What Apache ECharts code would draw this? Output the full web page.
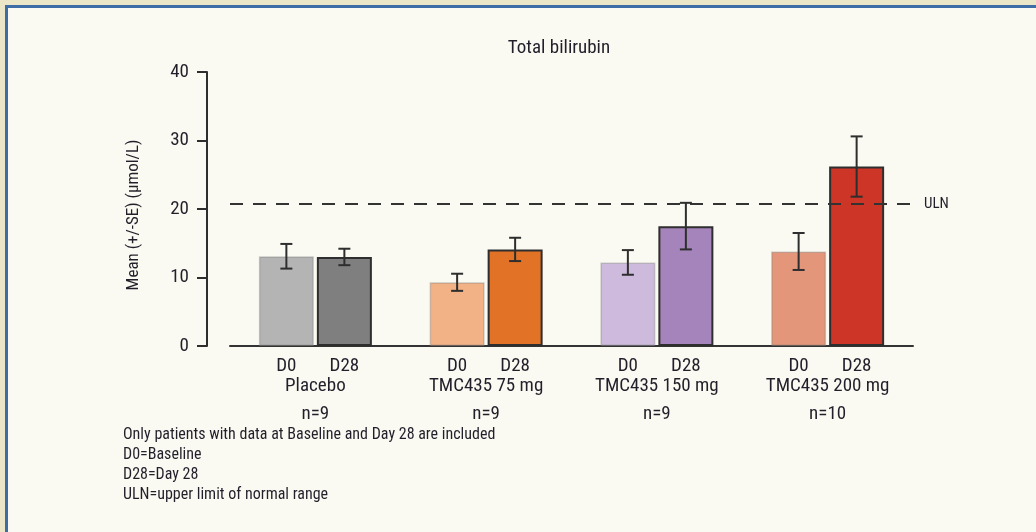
<!DOCTYPE html>
<html>
<head>
<meta charset="utf-8">
<script src="https://cdn.jsdelivr.net/npm/echarts@6/dist/echarts.min.js"></script>
<style>
  html, body { margin: 0; padding: 0; width: 1036px; height: 532px; background: #ECE6C9; overflow: hidden; }
  #frame { position: absolute; left: 5px; top: 5px; right: 0; bottom: 0;
           border-left: 3px solid #3E6CA6; border-top: 3px solid #3E6CA6; background: #FAFAF2; }
  #chart { position: absolute; left: 0; top: 0; width: 1036px; height: 532px; }
</style>
</head>
<body>
<div id="frame"></div>
<div id="chart"></div>
<script>
// Total bilirubin by treatment arm, baseline (D0) vs Day 28
const groups = ['Placebo', 'TMC435 75 mg', 'TMC435 150 mg', 'TMC435 200 mg'];
const nCounts = ['n=9', 'n=9', 'n=9', 'n=10'];
const dayLabels = ['D0', 'D28'];
const d0Mean = [13.1, 9.3, 12.2, 13.8];
const d0Se = [1.8, 1.25, 1.8, 2.7];
const d28Mean = [13.0, 14.1, 17.5, 26.2];
const d28Se = [1.2, 1.7, 3.4, 4.4];
const d0Colors = ['#B4B4B4', '#F2B286', '#CDBADC', '#E3967A'];
const d28Colors = ['#7F7F7F', '#E27226', '#A584BB', '#CD3526'];
const uln = 20.7;
const yTicks = [0, 10, 20, 30, 40];
const footnotes = [
  'Only patients with data at Baseline and Day 28 are included',
  'D0=Baseline',
  'D28=Day 28',
  'ULN=upper limit of normal range'
];

const FONT = '"Roboto Condensed", "DejaVu Sans Condensed", sans-serif';
const TXT = '#231f2a';
const BAR_W = 55;
const BAR_GAP = 3;

const chart = echarts.init(document.getElementById('chart'), null, { renderer: 'canvas' });

// I-beam error bars centred on each bar of the pair
function errorSeries(name, means, ses, side) {
  return {
    type: 'custom',
    name: name,
    z: 5,
    data: means.map((m, i) => [i, m - ses[i], m + ses[i]]),
    renderItem: function (params, api) {
      const shift = side * (BAR_W + BAR_GAP) / 2;
      const lo = api.coord([api.value(0), api.value(1)]);
      const hi = api.coord([api.value(0), api.value(2)]);
      const x = lo[0] + shift;
      const cap = 6;
      const style = { stroke: '#2e2e2e', lineWidth: 2 };
      return {
        type: 'group',
        children: [
          { type: 'line', shape: { x1: x, y1: lo[1], x2: x, y2: hi[1] }, style: style },
          { type: 'line', shape: { x1: x - cap, y1: lo[1], x2: x + cap, y2: lo[1] }, style: style },
          { type: 'line', shape: { x1: x - cap, y1: hi[1], x2: x + cap, y2: hi[1] }, style: style }
        ]
      };
    }
  };
}

function dayLabel(text) {
  return {
    show: true,
    position: 'bottom',
    distance: 11,
    formatter: text,
    color: TXT,
    fontFamily: FONT,
    fontSize: 19
  };
}

const option = {
  animation: false,
  backgroundColor: 'transparent',
  title: {
    text: 'Total bilirubin',
    left: 554,
    top: 34,
    textAlign: 'center',
    textStyle: { fontFamily: FONT, fontSize: 19, fontWeight: 'normal', color: TXT }
  },
  grid: { left: 230, right: 123, top: 72, bottom: 186 },
  xAxis: {
    type: 'category',
    data: groups,
    axisLine: { show: true, lineStyle: { color: '#333', width: 2 } },
    axisTick: { show: false },
    axisLabel: {
      margin: 30,
      interval: 0,
      fontFamily: FONT,
      color: TXT,
      formatter: function (v, i) { return '{g|' + v + '}\n{n|' + nCounts[i] + '}'; },
      rich: {
        g: { fontFamily: FONT, fontSize: 19, color: TXT, lineHeight: 20 },
        n: { fontFamily: FONT, fontSize: 19, color: TXT, lineHeight: 36 }
      }
    }
  },
  yAxis: {
    type: 'value',
    min: yTicks[0],
    max: yTicks[yTicks.length - 1],
    interval: 10,
    offset: 23,
    name: 'Mean (+/-SE) (\u03bcmol/L)',
    nameLocation: 'middle',
    nameGap: 65,
    nameRotate: 90,
    nameTextStyle: { fontFamily: FONT, fontSize: 17, color: TXT, padding: [0, 12, 0, 0] },
    axisLine: { show: true, lineStyle: { color: '#2e2e2e', width: 2 } },
    axisTick: { show: true, length: 10, lineStyle: { color: '#2e2e2e', width: 2 } },
    axisLabel: { margin: 18, fontFamily: FONT, fontSize: 19, color: TXT },
    splitLine: { show: false }
  },
  series: [
    {
      type: 'bar',
      name: dayLabels[0],
      barWidth: BAR_W,
      barGap: (BAR_GAP / BAR_W * 100) + '%',
      data: d0Mean.map((v, i) => ({
        value: v,
        itemStyle: { color: d0Colors[i], borderColor: 'rgba(120,120,120,0.35)', borderWidth: 1.5 }
      })),
      label: dayLabel(dayLabels[0]),
      markLine: {
        silent: true,
        symbol: 'none',
        data: [{ yAxis: uln }],
        lineStyle: { color: '#333', width: 2, type: [13, 10] },
        label: {
          show: true,
          position: 'end',
          distance: 11,
          formatter: 'ULN',
          fontFamily: FONT,
          fontSize: 15,
          color: TXT
        }
      }
    },
    {
      type: 'bar',
      name: dayLabels[1],
      barWidth: BAR_W,
      data: d28Mean.map((v, i) => ({
        value: v,
        itemStyle: { color: d28Colors[i], borderColor: '#2e2e2e', borderWidth: 2 }
      })),
      label: dayLabel(dayLabels[1])
    },
    errorSeries('D0 SE', d0Mean, d0Se, -1),
    errorSeries('D28 SE', d28Mean, d28Se, 1)
  ],
  graphic: footnotes.map((t, i) => ({
    type: 'text',
    left: 123,
    top: 427 + i * 20,
    style: { text: t, fontFamily: FONT, fontSize: 16, fill: TXT }
  }))
};

chart.setOption(option);
</script>
</body>
</html>
